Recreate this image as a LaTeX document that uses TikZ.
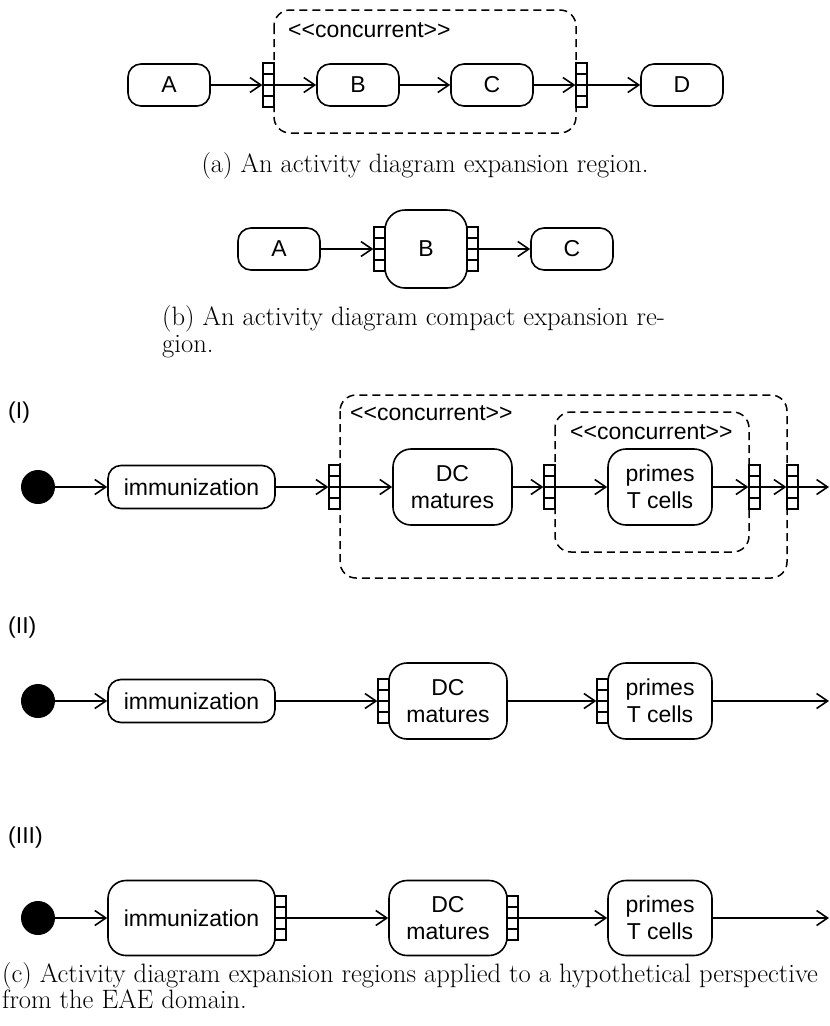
\documentclass[tikz,border=0pt]{standalone}
\usepackage{fontspec}
\newfontfamily\diagfont{Liberation Sans}
\usetikzlibrary{arrows.meta,calc}

\begin{document}
\begin{tikzpicture}[x=1pt,y=-1pt,
  every node/.style={font=\diagfont\fontsize{23}{27}\selectfont},
  act/.style={draw, line width=1.6pt, rounded corners=13pt, minimum width=82pt,
    minimum height=42pt, inner sep=0pt, align=center},
  tallact/.style={act, rounded corners=18pt, minimum height=76pt},
  initial/.style={circle, fill=black, minimum size=34pt, inner sep=0pt},
  pinbox/.style={draw, fill=white, line width=1.3pt, minimum width=11pt,
    minimum height=44pt, inner sep=0pt,
    path picture={
      \foreach \f in {0.25,0.5,0.75}
        \draw[line width=1.3pt]
          ($(path picture bounding box.north west)!\f!(path picture bounding box.south west)$) --
          ($(path picture bounding box.north east)!\f!(path picture bounding box.south east)$);
    }},
  region/.style={draw, line width=1.5pt, dash pattern=on 8pt off 5pt, rounded corners=16pt},
  stereo/.style={anchor=west, inner sep=0pt},
  flow/.style={line width=1.6pt, -{Straight Barb[length=11pt,width=15pt]}},
  capt/.style={font=\rmfamily\fontsize{26.6}{29}\selectfont, inner sep=0pt},
  rowlabel/.style={anchor=west, inner sep=0pt}
]
\useasboundingbox (0,0) rectangle (830,1026);

% ---------- (a) expansion region ----------
\draw[region] (274,10) rectangle (576,133);
\node[stereo] (aS) at (288,30) {<\kern0pt<concurrent>\kern0pt>};
\node[act] (aA) at (169,85) {A};
\node[pinbox] (ap1) at (268.5,85) {};
\node[act] (aB) at (358,85) {B};
\node[act] (aC) at (492,85) {C};
\node[pinbox] (ap2) at (581.5,85) {};
\node[act] (aD) at (682,85) {D};
\draw[flow] (aA) -- (ap1);
\draw[flow] (ap1.west) -- (aB);
\draw[flow] (aB) -- (aC);
\draw[flow] (aC) -- (ap2);
\draw[flow] (ap2.west) -- (aD);
\node[capt, anchor=base] (capa) at (425,172) {(a) An activity diagram expansion region.};

% ---------- (b) compact expansion region ----------
\node[act] (bA) at (279,249) {A};
\node[act, rounded corners=20pt, minimum height=78pt] (bB) at (426,249) {B};
\node[pinbox] (bpL) at (379.5,249) {};
\node[pinbox] (bpR) at (472.5,249) {};
\node[act] (bC) at (572,249) {C};
\draw[flow] (bA) -- (bpL);
\draw[flow] (bpR) -- (bC);
\node[capt, anchor=base west] (capb1) at (162,325) {(b) An activity diagram compact expansion re-};
\node[capt, anchor=base west] (capb2) at (162,352) {gion.};

% ---------- (c) row I ----------
\node[rowlabel] (lI) at (8,413) {(I)};
\draw[region] (340,395) rectangle (787,578);
\draw[region] (555,412) rectangle (749,552);
\node[stereo] (s1) at (350,413) {<\kern0pt<concurrent>\kern0pt>};
\node[stereo] (s2) at (570,432) {<\kern0pt<concurrent>\kern0pt>};
\node[initial] (d1) at (38,487) {};
\node[act, minimum width=167pt, minimum height=43pt] (i1) at (191.5,487) {immunization};
\node[pinbox] (p11) at (334.5,487) {};
\node[tallact, minimum width=119pt] (dc1) at (452.5,487) {DC\\matures};
\node[pinbox] (p12) at (549.5,487) {};
\node[tallact, minimum width=104pt] (pr1) at (660,487) {primes\\T cells};
\node[pinbox] (p13) at (754.5,487) {};
\node[pinbox] (p14) at (792.5,487) {};
\coordinate (e1) at (829,487);
\draw[flow] (d1) -- (i1);
\draw[flow] (i1) -- (p11);
\draw[flow] (p11.west) -- (dc1);
\draw[flow] (dc1) -- (p12);
\draw[flow] (p12.west) -- (pr1);
\draw[flow] (pr1) -- (p13);
\draw[flow] (p13.west) -- (p14);
\draw[flow] (p14.west) -- (e1);

% ---------- (c) row II ----------
\node[rowlabel] (lII) at (8,628) {(II)};
\node[initial] (d2) at (38,701) {};
\node[act, minimum width=167pt, minimum height=43pt] (i2) at (191.5,701) {immunization};
\node[tallact, minimum width=118pt] (dc2) at (448,701) {DC\\matures};
\node[pinbox] (p21) at (383.5,701) {};
\node[tallact, minimum width=104pt] (pr2) at (660,701) {primes\\T cells};
\node[pinbox] (p22) at (602.5,701) {};
\coordinate (e2) at (829,701);
\draw[flow] (d2) -- (i2);
\draw[flow] (i2) -- (p21);
\draw[flow] (dc2) -- (p22);
\draw[flow] (pr2) -- (e2);

% ---------- (c) row III ----------
\node[rowlabel] (lIII) at (8,838) {(III)};
\node[initial] (d3) at (38,918) {};
\node[tallact, minimum width=167pt, minimum height=75pt] (i3) at (191.5,918) {immunization};
\node[pinbox] (p31) at (280.5,918) {};
\node[tallact, minimum width=118pt, minimum height=75pt] (dc3) at (448,918) {DC\\matures};
\node[pinbox] (p32) at (512.5,918) {};
\node[tallact, minimum width=104pt, minimum height=75pt] (pr3) at (660,918) {primes\\T cells};
\coordinate (e3) at (829,918);
\draw[flow] (d3) -- (i3);
\draw[flow] (p31) -- (dc3);
\draw[flow] (p32) -- (pr3);
\draw[flow] (pr3) -- (e3);

\node[capt, anchor=base west] (capc1) at (2,982) {(c) Activity diagram expansion regions applied to a hypothetical perspective};
\node[capt, anchor=base west] (capc2) at (2,1008) {from the EAE domain.};
\end{tikzpicture}
\end{document}
